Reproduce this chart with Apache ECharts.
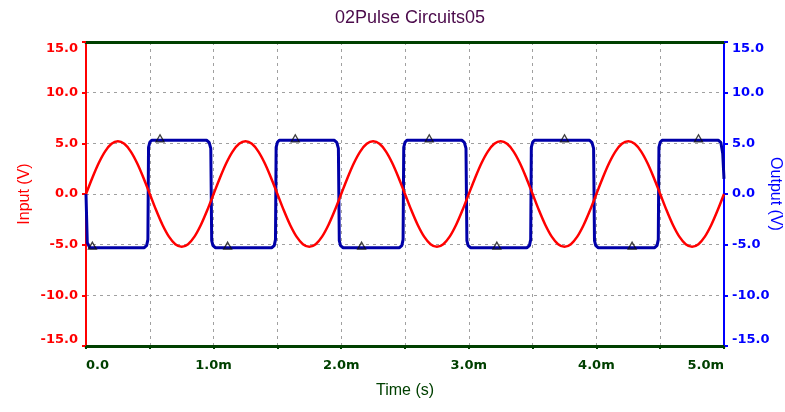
<!DOCTYPE html>
<html>
<head>
<meta charset="utf-8">
<script src="https://cdn.jsdelivr.net/npm/echarts@6/dist/echarts.min.js"></script>
<style>html,body{margin:0;padding:0;background:#fff;}#c{width:785px;height:412px;}</style>
</head>
<body>
<div id="c"></div>
<script>
var titleText = '02Pulse Circuits05';
var xName = 'Time (s)';
var leftName = 'Input (V)';
var rightName = 'Output (V)';
var xTicks = [0, 1, 2, 3, 4, 5];
var yTicks = [-15, -10, -5, 0, 5, 10, 15];

// Input sine, sampled every 0.05 ms from 0 to 5 ms
var inputStep = 0.05;
var inputValues = [
  0, 1.61, 3.06, 4.21, 4.95, 5.2, 4.95, 4.21, 3.06, 1.61,
  0, -1.61, -3.06, -4.21, -4.95, -5.2, -4.95, -4.21, -3.06, -1.61,
  0, 1.61, 3.06, 4.21, 4.95, 5.2, 4.95, 4.21, 3.06, 1.61,
  0, -1.61, -3.06, -4.21, -4.95, -5.2, -4.95, -4.21, -3.06, -1.61,
  0, 1.61, 3.06, 4.21, 4.95, 5.2, 4.95, 4.21, 3.06, 1.61,
  0, -1.61, -3.06, -4.21, -4.95, -5.2, -4.95, -4.21, -3.06, -1.61,
  0, 1.61, 3.06, 4.21, 4.95, 5.2, 4.95, 4.21, 3.06, 1.61,
  0, -1.61, -3.06, -4.21, -4.95, -5.2, -4.95, -4.21, -3.06, -1.61,
  0, 1.61, 3.06, 4.21, 4.95, 5.2, 4.95, 4.21, 3.06, 1.61,
  0, -1.61, -3.06, -4.21, -4.95, -5.2, -4.95, -4.21, -3.06, -1.61,
  0
];

// Output square wave [time ms, volts]
var outputPoints = [
  [0, 0], [0.01, -4.8], [0.03, -5.3],
  [0.455, -5.3], [0.475, -5.1], [0.485, -4.5], [0.49, 4.6], [0.5, 5.1], [0.515, 5.3],
  [0.945, 5.3], [0.965, 5.1], [0.978, 4.5], [0.985, -4.6], [0.995, -5.1], [1.015, -5.3],
  [1.455, -5.3], [1.475, -5.1], [1.485, -4.5], [1.49, 4.6], [1.5, 5.1], [1.515, 5.3],
  [1.945, 5.3], [1.965, 5.1], [1.978, 4.5], [1.985, -4.6], [1.995, -5.1], [2.015, -5.3],
  [2.455, -5.3], [2.475, -5.1], [2.485, -4.5], [2.49, 4.6], [2.5, 5.1], [2.515, 5.3],
  [2.945, 5.3], [2.965, 5.1], [2.978, 4.5], [2.985, -4.6], [2.995, -5.1], [3.015, -5.3],
  [3.455, -5.3], [3.475, -5.1], [3.485, -4.5], [3.49, 4.6], [3.5, 5.1], [3.515, 5.3],
  [3.945, 5.3], [3.965, 5.1], [3.978, 4.5], [3.985, -4.6], [3.995, -5.1], [4.015, -5.3],
  [4.455, -5.3], [4.475, -5.1], [4.485, -4.5], [4.49, 4.6], [4.5, 5.1], [4.515, 5.3],
  [4.955, 5.3], [4.975, 5.1], [4.99, 4.0], [5.0, 1.5]
];

// Output markers [time ms, volts]
var markerPoints = [
  [0.05, -5.3], [0.58, 5.3], [1.11, -5.3], [1.64, 5.3], [2.16, -5.3],
  [2.69, 5.3], [3.22, -5.3], [3.75, 5.3], [4.28, -5.3], [4.8, 5.3]
];

var inputData = inputValues.map(function (v, i) { return [+(i * inputStep).toFixed(3), v]; });

var labelFont = 'Tahoma, "DejaVu Sans", sans-serif';
var nameFont = 'Arial, "Liberation Sans", sans-serif';
var red = '#ff0000', blue = '#0000ff', green = '#004000';

var chart = echarts.init(document.getElementById('c'), null, {renderer: 'canvas'});
chart.setOption({
  animation: false,
  backgroundColor: '#ffffff',
  title: {
    text: titleText, left: 405, top: 4, textAlign: 'center',
    textStyle: {color: '#4b0a4b', fontSize: 18, fontWeight: 'normal', fontFamily: nameFont}
  },
  grid: {left: 86, right: 61, top: 42, bottom: 66, containLabel: false, outerBoundsMode: 'none'},
  xAxis: [{
    type: 'value', min: 0, max: 5, interval: 0.5,
    name: xName, nameLocation: 'middle', nameGap: 37, nameMoveOverlap: false,
    nameTextStyle: {color: green, fontSize: 16, fontFamily: nameFont},
    axisLine: {show: true, onZero: false, lineStyle: {color: green, width: 3}},
    axisTick: {show: true, length: 3, lineStyle: {color: green, width: 2}},
    axisLabel: {
      color: green, fontSize: 13, fontWeight: 'bold', fontFamily: labelFont, margin: 13,
      alignMinLabel: 'left', alignMaxLabel: 'right',
      formatter: function (v) {
        if (xTicks.indexOf(v) < 0) return '';
        return v === 0 ? '0.0' : v.toFixed(1) + 'm';
      }
    },
    splitLine: {show: true, lineStyle: {color: '#a0a0a0', type: [3, 4], width: 1}}
  }, {
    type: 'value', min: 0, max: 5, position: 'top',
    axisLine: {show: true, onZero: false, lineStyle: {color: green, width: 3}},
    axisTick: {show: false}, axisLabel: {show: false}, splitLine: {show: false}
  }],
  yAxis: [{
    type: 'value', min: yTicks[0], max: yTicks[yTicks.length - 1], interval: 5,
    position: 'left',
    name: leftName, nameLocation: 'middle', nameGap: 53, nameRotate: 90, nameMoveOverlap: false,
    nameTextStyle: {color: red, fontSize: 16, fontFamily: nameFont},
    axisLine: {show: true, onZero: false, lineStyle: {color: red, width: 2}},
    axisTick: {show: true, length: 4, lineStyle: {color: red, width: 2}},
    axisLabel: {color: red, fontSize: 13, fontWeight: 'bold', fontFamily: labelFont, margin: 8,
      verticalAlignMinLabel: 'bottom', verticalAlignMaxLabel: 'top',
      formatter: function (v) { return v.toFixed(1); }},
    splitLine: {show: true, lineStyle: {color: '#a0a0a0', type: [3, 4], width: 1}}
  }, {
    type: 'value', min: yTicks[0], max: yTicks[yTicks.length - 1], interval: 5,
    position: 'right',
    name: rightName, nameLocation: 'middle', nameGap: 43, nameRotate: -90, nameMoveOverlap: false,
    nameTextStyle: {color: blue, fontSize: 16, fontFamily: nameFont},
    axisLine: {show: true, onZero: false, lineStyle: {color: blue, width: 2}},
    axisTick: {show: true, length: 4, lineStyle: {color: blue, width: 2}},
    axisLabel: {color: blue, fontSize: 13, fontWeight: 'bold', fontFamily: labelFont, margin: 8,
      verticalAlignMinLabel: 'bottom', verticalAlignMaxLabel: 'top',
      formatter: function (v) { return v.toFixed(1); }},
    splitLine: {show: false}
  }],
  series: [{
    name: 'Output', type: 'line', xAxisIndex: 0, yAxisIndex: 1,
    data: outputPoints, showSymbol: false, symbol: 'none',
    lineStyle: {color: '#0000a8', width: 3}, z: 2
  }, {
    name: 'Input', type: 'line', xAxisIndex: 0, yAxisIndex: 0,
    data: inputData, showSymbol: false, symbol: 'none', smooth: 0.3,
    lineStyle: {color: red, width: 2.5}, z: 3
  }, {
    name: 'Markers', type: 'scatter', xAxisIndex: 0, yAxisIndex: 1,
    data: markerPoints, symbol: 'triangle', symbolSize: [8, 7], symbolOffset: [0, -2],
    itemStyle: {color: 'rgba(0,0,0,0)', borderColor: '#101010', borderWidth: 1.3}, z: 4
  }]
});
</script>
</body>
</html>
